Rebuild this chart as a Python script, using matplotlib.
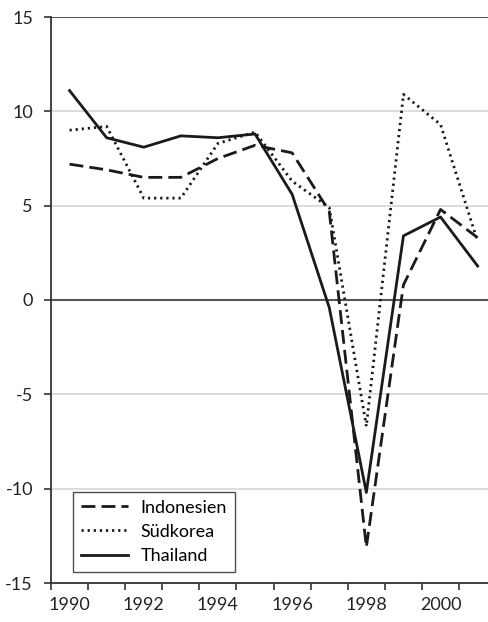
import matplotlib
matplotlib.use("Agg")
import matplotlib.pyplot as plt
from matplotlib.ticker import FixedLocator

years = [1990, 1991, 1992, 1993, 1994, 1995, 1996, 1997, 1998, 1999, 2000, 2001]
indonesien = [7.2, 6.9, 6.5, 6.5, 7.5, 8.2, 7.8, 4.7, -13.1, 0.8, 4.8, 3.3]
suedkorea = [9.0, 9.2, 5.4, 5.4, 8.3, 8.9, 6.3, 4.9, -6.7, 10.9, 9.3, 3.1]
thailand = [11.1, 8.6, 8.1, 8.7, 8.6, 8.8, 5.6, -0.4, -10.2, 3.4, 4.4, 1.8]
y_ticks = [-15, -10, -5, 0, 5, 10, 15]
x_labels = ["1990", "1992", "1994", "1996", "1998", "2000"]

plt.rcParams['font.family'] = ['Lato', 'DejaVu Sans']

fig = plt.figure(figsize=(4.89, 6.22), dpi=100)
ax = fig.add_axes([51/489, 39/622, 438/489, 566/622])

xs = list(range(len(years)))
ax.plot(xs, indonesien, color='#1a1a1a', lw=2.0, dashes=(5, 2.2), label='Indonesien', zorder=3)
ax.plot(xs, suedkorea, color='#1a1a1a', lw=2.0, dashes=(0.8, 1.4), label='Südkorea', zorder=3)
ax.plot(xs, thailand, color='#1a1a1a', lw=2.0, label='Thailand', zorder=3)

ax.set_ylim(-15, 15)
ax.set_xlim(-0.5, -0.5 + 438/37.1)
ax.set_yticks(y_ticks)
ax.set_yticklabels([str(v) for v in y_ticks])
for v in [-10, -5, 5, 10]:
    ax.axhline(v, color='#d9d9d9', lw=1.3, zorder=1)
ax.axhline(0, color='#555555', lw=1.5, zorder=2)
ax.axhline(15, color='#555555', lw=1.5, zorder=2)

ax.xaxis.set_major_locator(FixedLocator([i - 0.5 for i in range(len(years))]))
ax.set_xticklabels([])
ax.set_xticks(list(range(0, len(years), 2)), minor=True)
ax.set_xticklabels(x_labels, minor=True)
ax.tick_params(axis='x', which='minor', length=0, pad=10, labelsize=13, colors='#222222')
ax.tick_params(axis='x', which='major', length=5, width=1.2, color='#333333')
ax.tick_params(axis='y', length=5, width=1.2, color='#333333', labelsize=13, labelcolor='#222222', pad=8)

for s in ['top', 'right']:
    ax.spines[s].set_visible(False)
for s in ['left', 'bottom']:
    ax.spines[s].set_color('#333333')
    ax.spines[s].set_linewidth(1.3)

leg = ax.legend(loc='lower left', bbox_to_anchor=(22/438, (583-572)/566), fontsize=13,
                frameon=True, fancybox=False, handlelength=2.6, borderpad=0.45,
                labelspacing=0.45, handletextpad=0.7, borderaxespad=0)
leg.get_frame().set_edgecolor('#222222')
leg.get_frame().set_linewidth(1.0)

fig.savefig('out.png', dpi=100)
